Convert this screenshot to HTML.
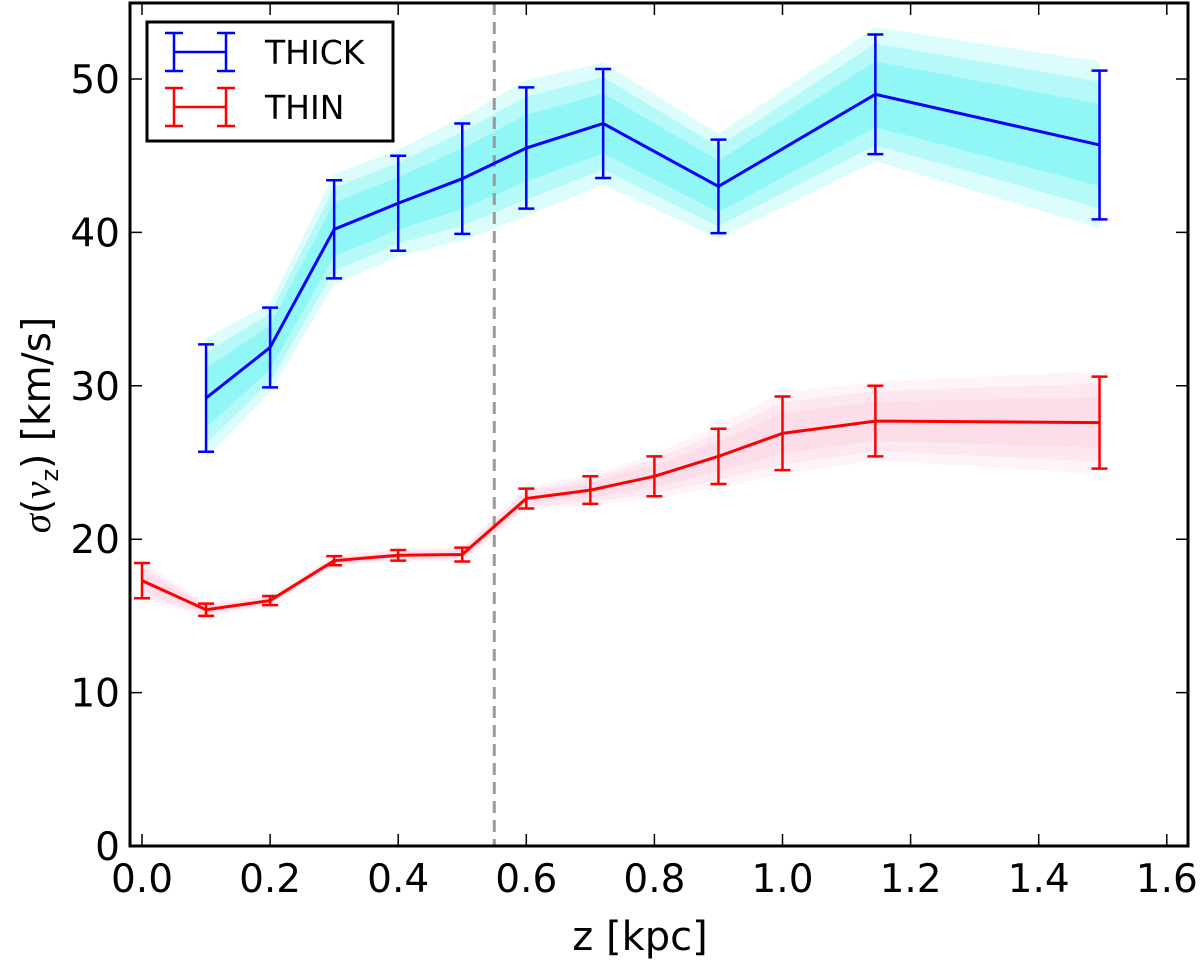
<!DOCTYPE html>
<html><head><meta charset="utf-8"><style>
body{margin:0;background:#fff}
svg text{font-family:"DejaVu Sans","Liberation Sans",sans-serif}
</style></head><body>
<svg width="1200" height="961" viewBox="0 0 1200 961">
<g id="plot"></g>
</svg>
<script>
const thickZ=[0.1,0.2,0.3,0.4,0.5,0.6,0.72,0.9,1.145,1.495];
const thickV=[29.2,32.5,40.2,41.9,43.5,45.5,47.1,43.0,49.0,45.7];
const thickE=[3.5,2.6,3.2,3.1,3.6,3.95,3.55,3.05,3.9,4.85];
const thinZ=[0.0,0.1,0.2,0.3,0.4,0.5,0.6,0.7,0.8,0.9,1.0,1.145,1.495];
const thinV=[17.3,15.4,16.0,18.6,18.95,19.0,22.65,23.2,24.1,25.4,26.9,27.7,27.6];
const thinE=[1.15,0.4,0.3,0.3,0.35,0.45,0.65,0.9,1.3,1.8,2.4,2.3,3.0];
const xTicks=[0,0.2,0.4,0.6,0.8,1.0,1.2,1.4,1.6];
const yTicks=[0,10,20,30,40,50];
const L=130,R=1188,T=3,B=846;
const X=v=>142+v*640.5, Y=v=>B-v*15.34;
const NS="http://www.w3.org/2000/svg";
const g=document.getElementById('plot');
function mk(t,a,p){const e=document.createElementNS(NS,t);for(const k in a)e.setAttribute(k,a[k]);(p||g).appendChild(e);return e;}
function band(zs,vs,es,col,name){
  [[1.12,0.18],[0.85,0.25],[0.55,0.3]].forEach(([f,o],j)=>{
    let up=zs.map((z,i)=>X(z)+','+Y(vs[i]+es[i]*f));
    let dn=zs.map((z,i)=>X(z)+','+Y(vs[i]-es[i]*f)).reverse();
    const p=mk('polygon',{points:up.concat(dn).join(' '),fill:col,opacity:o});
    
  });
}
band(thickZ,thickV,thickE,'#40eef0','thick-band');
band(thinZ,thinV,thinE,'#fcc4dc','thin-band');
const dl=mk('line',{x1:X(0.55),x2:X(0.55),y1:T,y2:B,stroke:'#999','stroke-width':3,'stroke-dasharray':'12,7'});

function series(zs,vs,es,col,name){
  const pl=mk('polyline',{points:zs.map((z,i)=>X(z)+','+Y(vs[i])).join(' '),fill:'none',stroke:col,'stroke-width':3});
  
  zs.forEach((z,i)=>{
    const x=X(z),a=Y(vs[i]+es[i]),b=Y(vs[i]-es[i]);
    const e=mk('path',{d:`M${x},${a}V${b}M${x-8},${a}H${x+8}M${x-8},${b}H${x+8}`,stroke:col,'stroke-width':2.5,fill:'none'});
    
  });
}
series(thickZ,thickV,thickE,'#0000ff','thick');
series(thinZ,thinV,thinE,'#ff0000','thin');
const fr=mk('rect',{x:L,y:T,width:R-L,height:B-T,fill:'none',stroke:'#000','stroke-width':3});

xTicks.forEach(v=>{const x=X(v);
  mk('path',{d:`M${x},${B}v-12M${x},${T}v12`,stroke:'#000','stroke-width':1.5});
  const t=mk('text',{x:x,y:B+46,'font-size':39,'text-anchor':'middle'});t.textContent=v.toFixed(1);
  
});
yTicks.forEach(v=>{const y=Y(v);
  mk('path',{d:`M${L},${y}h12M${R},${y}h-12`,stroke:'#000','stroke-width':1.5});
  const t=mk('text',{x:L-10,y:y+14,'font-size':39,'text-anchor':'end'});t.textContent=v;
  
});
const xt=mk('text',{x:640,y:950,'font-size':40,'text-anchor':'middle'});xt.textContent='z [kpc]';

const yt=mk('text',{x:0,y:0,'font-size':39,'text-anchor':'middle',transform:'translate(50,425) rotate(-90)'});
yt.innerHTML='<tspan font-style="italic" font-family="Liberation Serif">σ</tspan>(<tspan font-style="italic" font-family="Liberation Serif">v</tspan><tspan font-size="24" dy="8">z</tspan><tspan dy="-8">)  [km/s]</tspan>';

const lg=mk('g',{});
mk('rect',{x:147,y:22,width:246,height:119,fill:'#fff',stroke:'#000','stroke-width':3},lg);
[['THICK','#0000ff',52],['THIN','#ff0000',107]].forEach(([n,c,y])=>{
  mk('path',{d:`M174,${y}H226M174,${y-19}V${y+19}M226,${y-19}V${y+19}M165,${y-19}h18M165,${y+19}h18M217,${y-19}h18M217,${y+19}h18`,stroke:c,'stroke-width':2.5,fill:'none'},lg);
  const t=mk('text',{x:265,y:y+12,'font-size':33},lg);t.textContent=n;
  
});
</script>
</body></html>
